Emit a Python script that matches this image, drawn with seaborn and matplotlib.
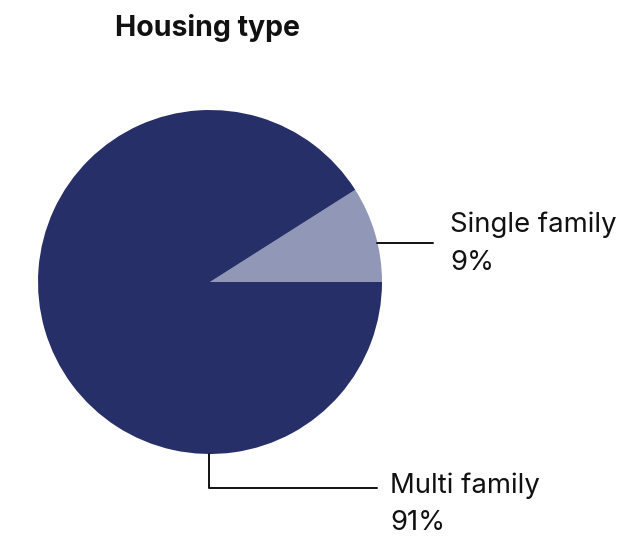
import matplotlib
matplotlib.use("Agg")
import matplotlib.pyplot as plt
import seaborn as sns

# housing type shares (percent)
labels = ["Single family", "Multi family"]
shares = [9, 91]
colors = ["#9197b6", "#272f68"]

sns.set_theme(style="white")
plt.rcParams['font.family'] = ['Inter', 'DejaVu Sans']

fig = plt.figure(figsize=(6.27, 5.4), dpi=100)
ax = fig.add_axes([0, 0, 1, 1])

# pie centre / radius in pixel-like units (y measured from the bottom)
cx, cy, r = 210, 540 - 282, 172
ax.pie(shares, colors=colors, startangle=0, counterclock=True,
       center=(cx, cy), radius=r, frame=True,
       wedgeprops=dict(linewidth=0))
ax.set_xlim(0, 627)
ax.set_ylim(0, 540)
ax.set_aspect("equal")
ax.axis("off")

# leader lines
ax.plot([377, 433], [540 - 243, 540 - 243], color="#111111", lw=1.4)
ax.plot([209, 209, 377], [cy - r, 540 - 488, 540 - 488], color="#111111", lw=1.4)

fs = 19.8
ax.text(450, 540 - 225, labels[0], fontsize=fs, va="center", ha="left", color="#111111")
ax.text(450, 540 - 263, f"{shares[0]}%", fontsize=fs, va="center", ha="left", color="#111111")
ax.text(390, 540 - 486, labels[1], fontsize=fs, va="center", ha="left", color="#111111")
ax.text(390, 540 - 523, f"{shares[1]}%", fontsize=fs, va="center", ha="left", color="#111111")

fig.text(115 / 627, 1 - 28 / 540, "Housing type", fontsize=20.5, fontweight="bold",
         va="center", ha="left", color="#111111")

fig.savefig("out.png", dpi=100)
